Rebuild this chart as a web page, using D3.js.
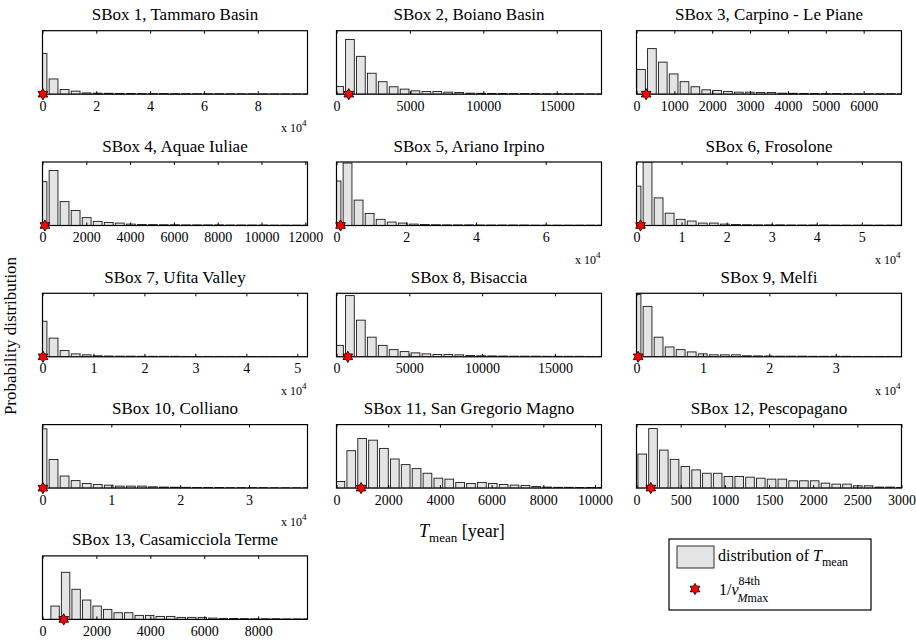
<!DOCTYPE html>
<html><head><meta charset="utf-8">
<script src="https://cdn.jsdelivr.net/npm/d3@7"></script>
<style>
body{margin:0;background:#fff}
svg{display:block}
svg text{font-family:"Liberation Serif","Times New Roman",Times,"DejaVu Serif",serif !important;fill:#000}
</style>
</head><body>
<svg id="c" width="916" height="640"></svg>
<script>
// ---------------- data ----------------
const titles = [
  "SBox 1, Tammaro Basin", "SBox 2, Boiano Basin", "SBox 3, Carpino - Le Piane",
  "SBox 4, Aquae Iuliae", "SBox 5, Ariano Irpino", "SBox 6, Frosolone",
  "SBox 7, Ufita Valley", "SBox 8, Bisaccia", "SBox 9, Melfi",
  "SBox 10, Colliano", "SBox 11, San Gregorio Magno", "SBox 12, Pescopagano",
  "SBox 13, Casamicciola Terme"
];
// x-axis upper limit [year]
const xMax = [98500, 18050, 7000, 12100, 76000, 58800, 52000, 18200, 39900, 38500, 10250, 3000, 9830];
// centre of first histogram bin and bin width [year]
const binFirst = [0, 172, 120, 0, 0, 0, 0, 170, 0, 0, 150, 65, 467];
const binWidth = [4104, 744, 287, 504, 3167, 2450, 2167, 751, 1662, 1604, 421, 122, 390];
// 1/nu_Mmax^84th [year]
const starX = [150, 837, 255, 110, 1150, 900, 100, 780, 250, 60, 950, 162, 788];
// tick values and exponent of the axis multiplier
const tickVals = [
  [0, 20000, 40000, 60000, 80000],
  [0, 5000, 10000, 15000],
  [0, 1000, 2000, 3000, 4000, 5000, 6000],
  [0, 2000, 4000, 6000, 8000, 10000, 12000],
  [0, 20000, 40000, 60000],
  [0, 10000, 20000, 30000, 40000, 50000],
  [0, 10000, 20000, 30000, 40000, 50000],
  [0, 5000, 10000, 15000],
  [0, 10000, 20000, 30000],
  [0, 10000, 20000, 30000],
  [0, 2000, 4000, 6000, 8000, 10000],
  [0, 500, 1000, 1500, 2000, 2500, 3000],
  [0, 2000, 4000, 6000, 8000]
];
const tickExp = [4, 0, 0, 0, 4, 4, 4, 0, 4, 4, 0, 0, 0];
// probability distribution (relative to axis limit) per bin
const p1  = [0.64, 0.24, 0.074, 0.048, 0.02, 0.016, 0.014, 0.012, 0.012, 0.01, 0.01, 0.01, 0.009, 0.009, 0.008, 0.008, 0.008, 0.007, 0.007, 0.007, 0.006, 0.006, 0.006, 0.006, 0.006];
const p2  = [0.122, 0.862, 0.596, 0.33, 0.197, 0.117, 0.08, 0.053, 0.043, 0.043, 0.032, 0.027, 0.016, 0.014, 0.012, 0.012, 0.01, 0.01, 0.01, 0.008, 0.008, 0.008, 0.008, 0.006, 0.006];
const p3  = [0.388, 0.718, 0.505, 0.319, 0.197, 0.117, 0.069, 0.059, 0.043, 0.032, 0.032, 0.027, 0.027, 0.016, 0.014, 0.012, 0.012, 0.01, 0.01, 0.01, 0.008, 0.008, 0.008, 0.008, 0.006];
const p4  = [0.69, 0.866, 0.376, 0.237, 0.124, 0.065, 0.048, 0.038, 0.022, 0.016, 0.014, 0.012, 0.012, 0.01, 0.01, 0.01, 0.01, 0.008, 0.008, 0.008, 0.008, 0.006, 0.006, 0.006, 0.006];
const p5  = [0.70, 0.984, 0.40, 0.19, 0.097, 0.054, 0.038, 0.022, 0.016, 0.012, 0.01, 0.01, 0.01, 0.008, 0.008, 0.008, 0.008, 0.008, 0.006, 0.006, 0.006, 0.006, 0.006, 0.006, 0.006];
const p6  = [0.62, 1.0, 0.435, 0.194, 0.097, 0.07, 0.038, 0.038, 0.022, 0.016, 0.012, 0.01, 0.01, 0.01, 0.008, 0.008, 0.008, 0.008, 0.006, 0.006, 0.006, 0.006, 0.006, 0.006, 0.006];
const p7  = [0.56, 0.294, 0.098, 0.046, 0.031, 0.016, 0.012, 0.01, 0.01, 0.008, 0.008, 0.008, 0.008, 0.006, 0.006, 0.006, 0.006, 0.006, 0.006, 0.005, 0.005, 0.005, 0.005, 0.005, 0.005];
const p8  = [0.18, 0.964, 0.577, 0.309, 0.18, 0.113, 0.082, 0.062, 0.046, 0.036, 0.036, 0.031, 0.02, 0.016, 0.014, 0.012, 0.01, 0.01, 0.01, 0.008, 0.008, 0.008, 0.008, 0.006, 0.006];
const p9  = [0.98, 0.794, 0.309, 0.155, 0.113, 0.077, 0.046, 0.031, 0.031, 0.031, 0.016, 0.014, 0.012, 0.01, 0.01, 0.01, 0.008, 0.008, 0.008, 0.008, 0.006, 0.006, 0.006, 0.006, 0.006];
const p10 = [0.933, 0.451, 0.19, 0.118, 0.072, 0.056, 0.046, 0.031, 0.031, 0.031, 0.02, 0.016, 0.014, 0.012, 0.01, 0.01, 0.01, 0.008, 0.008, 0.008, 0.008, 0.006, 0.006, 0.006, 0.006];
const p11 = [0.104, 0.589, 0.78, 0.755, 0.625, 0.458, 0.37, 0.307, 0.234, 0.156, 0.141, 0.089, 0.073, 0.089, 0.073, 0.057, 0.047, 0.042, 0.026, 0.016, 0.012, 0.012, 0.01, 0.01, 0.01];
const p12 = [0.536, 0.9375, 0.599, 0.453, 0.339, 0.286, 0.234, 0.234, 0.182, 0.182, 0.172, 0.156, 0.141, 0.141, 0.115, 0.115, 0.115, 0.078, 0.0625, 0.0625, 0.036, 0.036, 0.016, 0.016, 0.01];
const p13 = [0.21, 0.742, 0.474, 0.305, 0.21, 0.158, 0.105, 0.105, 0.063, 0.063, 0.047, 0.047, 0.032, 0.032, 0.032, 0.021, 0.016, 0.014, 0.012, 0.01, 0.01, 0.01, 0.008, 0.008, 0.008];
const probs = [p1, p2, p3, p4, p5, p6, p7, p8, p9, p10, p11, p12, p13];

// ---------------- layout ----------------
const FONT = '"Liberation Serif", "Times New Roman", Times, "DejaVu Serif", serif';
const colLeft = [42.5, 336.5, 636.5];
const boxW = 265, boxH = 63.5;
const rowTop0 = 30.7, rowPitch = 131.3;
const barFill = "#e4e4e4", barStroke = "#1a1a1a";

const svg = d3.select("#c").attr("font-family", FONT);

function hexagramPath(R) {
  const r = R / Math.sqrt(3);
  const pts = [];
  for (let k = 0; k < 12; k++) {
    const a = -Math.PI / 2 + k * Math.PI / 6;
    const rr = (k % 2 === 0) ? R : r;
    pts.push([rr * Math.cos(a), rr * Math.sin(a)]);
  }
  return "M" + pts.map(p => p[0].toFixed(2) + "," + p[1].toFixed(2)).join("L") + "Z";
}
const starPath = hexagramPath(5.6);

titles.forEach((title, i) => {
  const row = Math.floor(i / 3), col = i % 3;
  const gx = colLeft[col], gy = rowTop0 + row * rowPitch;
  const g = svg.append("g").attr("transform", `translate(${gx},${gy})`);
  const x = d3.scaleLinear().domain([0, xMax[i]]).range([0, boxW]);
  const y = d3.scaleLinear().domain([0, 1]).range([boxH, 0]);

  const clipId = "clip" + i;
  g.append("clipPath").attr("id", clipId)
    .append("rect").attr("x", 0).attr("y", 0).attr("width", boxW).attr("height", boxH);

  const bins = probs[i].map((v, k) => ({c: binFirst[i] + k * binWidth[i], v}));
  const bw = binWidth[i] * 0.8;
  g.append("g").attr("clip-path", `url(#${clipId})`)
    .selectAll("rect").data(bins).join("rect")
    .attr("x", d => x(d.c - bw / 2))
    .attr("width", d => x(bw) - x(0))
    .attr("y", d => y(d.v))
    .attr("height", d => y(0) - y(d.v))
    .attr("fill", barFill)
    .attr("stroke", barStroke)
    .attr("stroke-width", 0.9);

  // box
  g.append("rect").attr("x", 0).attr("y", 0).attr("width", boxW).attr("height", boxH)
    .attr("fill", "none").attr("stroke", "#000").attr("stroke-width", 1.2);

  const div = Math.pow(10, tickExp[i]);
  const axB = d3.axisBottom(x).tickValues(tickVals[i])
    .tickFormat(v => d3.format("d")(v / div))
    .tickSizeInner(-3).tickSizeOuter(0).tickPadding(6.5);
  const gb = g.append("g").attr("transform", `translate(0,${boxH})`).call(axB)
    .attr("font-family", FONT).attr("font-size", 14);
  gb.select(".domain").remove();
  gb.selectAll(".tick line").attr("stroke", "#000");

  const axT = d3.axisTop(x).tickValues(tickVals[i]).tickFormat("")
    .tickSizeInner(-3).tickSizeOuter(0);
  const gt = g.append("g").call(axT);
  gt.select(".domain").remove();
  gt.selectAll(".tick line").attr("stroke", "#000");

  // title
  g.append("text").attr("x", boxW / 2).attr("y", -10.5)
    .attr("text-anchor", "middle").attr("font-size", 17).text(title);

  // multiplier
  if (tickExp[i] > 0) {
    const t = g.append("text").attr("x", boxW - 1).attr("y", boxH + 38)
      .attr("text-anchor", "end").attr("font-size", 12);
    t.append("tspan").text("x 10");
    t.append("tspan").attr("dy", -6).attr("font-size", 9).text(tickExp[i]);
  }

  // star
  g.append("path").attr("d", starPath)
    .attr("transform", `translate(${x(starX[i])},${boxH})`)
    .attr("fill", "#ff0000").attr("stroke", "#200000").attr("stroke-width", 0.9);
});

// y label
svg.append("text")
  .attr("transform", "translate(16,336) rotate(-90)")
  .attr("text-anchor", "middle").attr("font-size", 17)
  .text("Probability distribution");

// x label
const xl = svg.append("text").attr("x", 419).attr("y", 537).attr("font-size", 18);
xl.append("tspan").attr("font-style", "italic").text("T");
xl.append("tspan").attr("dy", 5).attr("font-size", 13).text("mean");
xl.append("tspan").attr("dy", -5).attr("font-size", 18).text(" [year]");

// legend
const lg = svg.append("g").attr("transform", "translate(669,539)");
lg.append("rect").attr("x", 0).attr("y", 0).attr("width", 202).attr("height", 71)
  .attr("fill", "#fff").attr("stroke", "#000").attr("stroke-width", 1.2);
lg.append("rect").attr("x", 8).attr("y", 7).attr("width", 37).attr("height", 22)
  .attr("fill", barFill).attr("stroke", barStroke).attr("stroke-width", 0.9);
const lt = lg.append("text").attr("x", 49).attr("y", 22).attr("font-size", 16);
lt.append("tspan").text("distribution of ");
lt.append("tspan").attr("font-style", "italic").text("T");
lt.append("tspan").attr("dy", 5).attr("font-size", 12).text("mean");
lg.append("path").attr("d", starPath).attr("transform", "translate(26,50)")
  .attr("fill", "#ff0000").attr("stroke", "#200000").attr("stroke-width", 0.9);
const l2 = lg.append("text").attr("x", 50).attr("y", 56).attr("font-size", 16);
l2.append("tspan").text("1/");
l2.append("tspan").attr("font-style", "italic").text("ν");
const w2 = l2.node().getComputedTextLength();
lg.append("text").attr("x", 50 + w2).attr("y", 46).attr("font-size", 12).text("84th");
const sub = lg.append("text").attr("x", 50 + w2 - 1).attr("y", 63).attr("font-size", 12);
sub.append("tspan").attr("font-style", "italic").text("M");
sub.append("tspan").text("max");
</script>
</body></html>
